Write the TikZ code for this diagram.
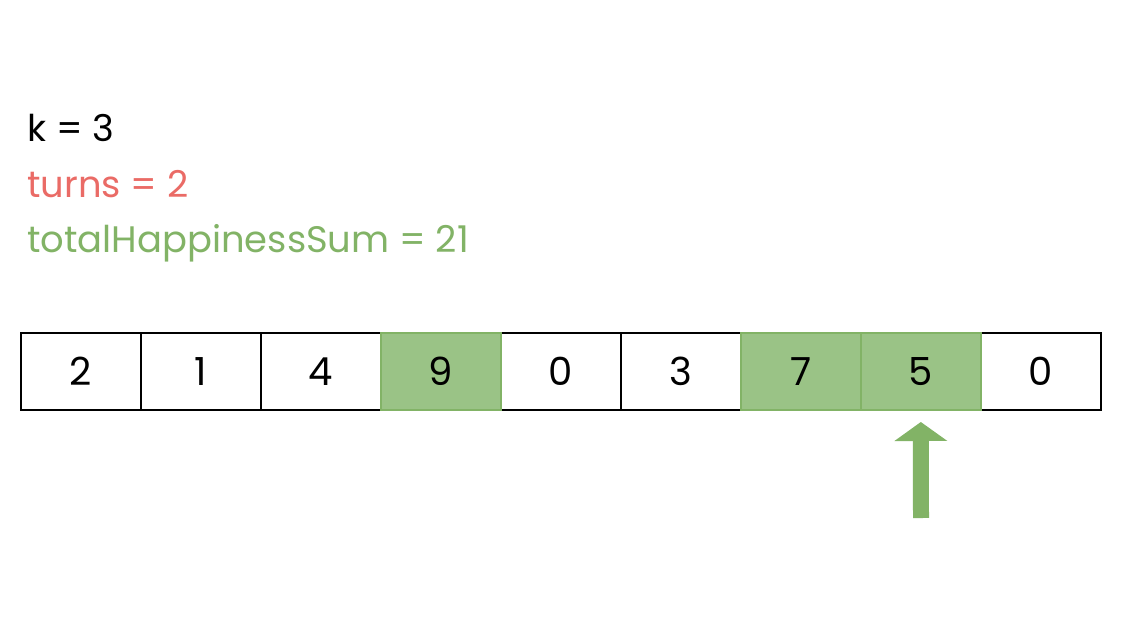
\documentclass[tikz,border=0pt]{standalone}
\usepackage{fontspec}
\setmainfont{Poppins}
\usepackage{tikz}
\usetikzlibrary{arrows.meta}
\definecolor{drawgreen}{HTML}{82B366}
\definecolor{cellgreen}{HTML}{9AC386}
\definecolor{drawred}{HTML}{EA6B66}

\begin{document}
\begin{tikzpicture}[x=0.02cm,y=-0.02cm,
    cell/.style={draw=black,line width=0.8pt,fill=white,inner sep=0pt,outer sep=0pt,
                 minimum width=2.4cm,minimum height=1.54cm,anchor=west,
                 text depth=-0.12cm,font=\fontsize{22}{26}\selectfont},
    hit/.style={cell,draw=drawgreen,fill=cellgreen},
    info/.style={anchor=base west,inner sep=0pt,font=\fontsize{21}{25}\selectfont}]
  \useasboundingbox (0,0) rectangle (1122,618);
  % the variables
  \node[info] (k) at (27,142) {k = 3};
  \node[info,text=drawred] (turns) at (27,198) {turns = 2};
  \node[info,text=drawgreen] (total) at (27,253) {totalHappinessSum = 21};
  % the array
  \coordinate (c0) at (21,371.5);
  \foreach \v [count=\i] in {2,1,4,9,0,3,7,5,0} {
    \pgfmathtruncatemacro{\j}{\i-1}
    \node[cell] (c\i) at (c\j.east) {\v};
  }
  \node[hit] at (c4.west) {9};
  \node[hit] at (c7.west) {7};
  \node[hit] at (c8.west) {5};
  % the pointer
  \coordinate (tail) at (921,518);
  \draw[drawgreen,line width=0.32cm,-{Triangle[length=0.38cm,width=1.04cm]}]
    (tail) -- ([yshift=-0.24cm]c8.south);
\end{tikzpicture}
\end{document}
